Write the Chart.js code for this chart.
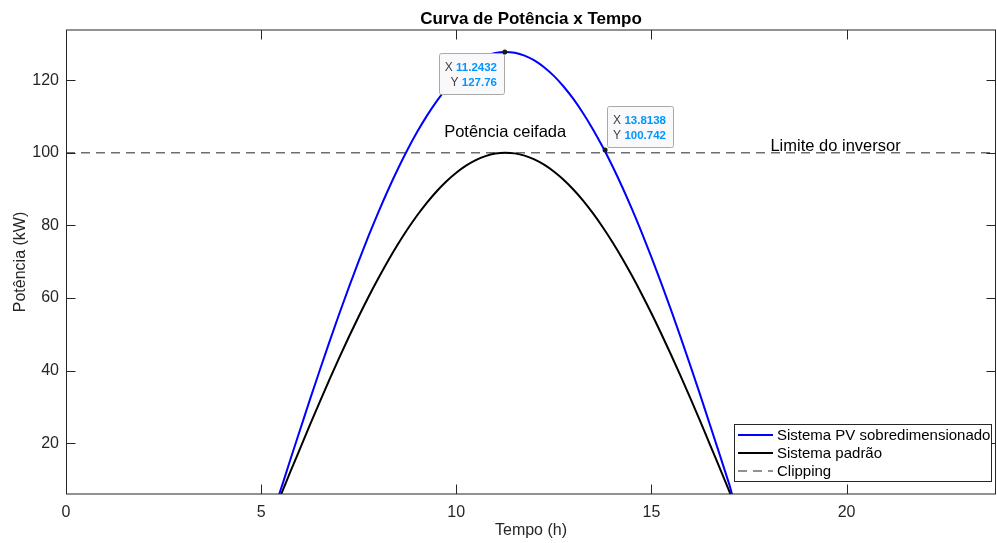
<!DOCTYPE html>
<html><head><meta charset="utf-8">
<script src="https://cdn.jsdelivr.net/npm/chart.js@4/dist/chart.umd.min.js"></script>
<style>html,body{margin:0;padding:0;background:#fff;overflow:hidden}canvas{display:block}</style>
</head><body>
<canvas id="c" width="997" height="543"></canvas>
<script>
// ---- data ----
const hours = [0, 5.25, 5.5, 5.75, 6, 6.25, 6.5, 6.75, 7, 7.25, 7.5, 7.75, 8, 8.25, 8.5, 8.75, 9, 9.25, 9.5, 9.75, 10, 10.25, 10.5, 10.75, 11, 11.25, 11.5, 11.75, 12, 12.25, 12.5, 12.75, 13, 13.25, 13.5, 13.75, 14, 14.25, 14.5, 14.75, 15, 15.25, 15.5, 15.75, 16, 16.25, 16.5, 16.75, 17, 17.25, 23.83];
const pvOversized = [0, 0, 7.17, 15.52, 23.75, 31.99, 40.02, 47.90, 55.57, 62.99, 70.14, 77.00, 83.51, 89.67, 95.45, 100.81, 105.75, 110.21, 114.21, 117.72, 120.72, 123.21, 125.16, 126.57, 127.45, 127.76, 127.53, 126.75, 125.42, 123.55, 121.16, 118.24, 114.81, 110.89, 106.49, 101.63, 96.33, 90.63, 84.53, 78.06, 71.26, 64.15, 56.77, 49.14, 41.30, 33.29, 25.07, 16.86, 8.51, 0, 0];
const standardSystem = [0, 0, 5.61, 12.15, 18.59, 25.04, 31.32, 37.49, 43.50, 49.30, 54.90, 60.27, 65.36, 70.19, 74.71, 78.91, 82.77, 86.26, 89.39, 92.14, 94.49, 96.44, 97.97, 99.07, 99.76, 100.00, 99.82, 99.21, 98.17, 96.71, 94.83, 92.55, 89.86, 86.80, 83.35, 79.55, 75.40, 70.94, 66.16, 61.10, 55.78, 50.21, 44.43, 38.46, 32.33, 26.06, 19.62, 13.20, 6.66, 0, 0];
const clipHours = [0, 23.83];
const clipLimit = [100, 100];
const xTickValues = [0, 5, 10, 15, 20];
const yTickValues = [20, 40, 60, 80, 100, 120];
const tipX = [11.2432, 13.8138];
const tipY = [127.76, 100.742];
const seriesLabels = ['Sistema PV sobredimensionado', 'Sistema padrão', 'Clipping'];
const chartTitle = 'Curva de Potência x Tempo';
const xAxisTitle = 'Tempo (h)';
const yAxisTitle = 'Potência (kW)';
const noteClipped = 'Potência ceifada';
const noteLimit = 'Limite do inversor';

const FONT = '"Liberation Sans", Arial, Helvetica, sans-serif';
const AX = '#262626';

const pts = (xs, ys) => xs.map((x, i) => ({x: x, y: ys[i]}));

const decor = {
  id: 'decor',
  afterDatasetsDraw(chart) {
    const ctx = chart.ctx;
    const xs = chart.scales.x, ys = chart.scales.y;
    ctx.save();
    // annotations
    ctx.fillStyle = '#000';
    ctx.font = '16.5px ' + FONT;
    ctx.textBaseline = 'middle';
    ctx.textAlign = 'left';
    ctx.fillText(noteClipped, xs.getPixelForValue(9.69), ys.getPixelForValue(105.5));
    ctx.fillText(noteLimit, xs.getPixelForValue(18.05), ys.getPixelForValue(101.8));
    // datatips
    tipX.forEach((tx, i) => {
      const px = xs.getPixelForValue(tx), py = ys.getPixelForValue(tipY[i]);
      const lines = [['X ', tx.toString()], ['Y ', tipY[i].toString()]];
      ctx.font = 'bold 11.5px ' + FONT;
      const vw = lines.map(l => ctx.measureText(l[1]).width);
      ctx.font = '12px ' + FONT;
      const lw = lines.map(l => ctx.measureText(l[0]).width);
      const w = Math.max(lw[0] + vw[0], lw[1] + vw[1]) + 13, h = 41;
      let bx, by;
      if (i === 0) { bx = px - 1 - w; by = py + 1; } else { bx = px + 2; by = py - 3 - h; }
      ctx.fillStyle = '#f9f9fc';
      ctx.strokeStyle = '#a9a9a9';
      ctx.lineWidth = 1;
      ctx.beginPath();
      ctx.roundRect(Math.round(bx) + 0.5, Math.round(by) + 0.5, Math.round(w), h, 2);
      ctx.fill(); ctx.stroke();
      const right = Math.round(bx) + Math.round(w) - 7;
      lines.forEach((l, k) => {
        const yy = Math.round(by) + 15 + k * 15;
        ctx.textAlign = 'right';
        ctx.font = 'bold 11.5px ' + FONT;
        ctx.fillStyle = 'rgb(0,150,255)';
        ctx.fillText(l[1], right, yy);
        ctx.font = '12px ' + FONT;
        ctx.fillStyle = '#404040';
        ctx.fillText(l[0], right - vw[k], yy);
      });
      ctx.beginPath();
      ctx.arc(px, py, 2.5, 0, Math.PI * 2);
      ctx.fillStyle = '#1a1a1a';
      ctx.fill();
    });
    ctx.restore();
  },
  afterDraw(chart) {
    const ctx = chart.ctx, a = chart.chartArea;
    const xs = chart.scales.x, ys = chart.scales.y;
    ctx.save();
    // box
    ctx.strokeStyle = AX; ctx.lineWidth = 1;
    ctx.beginPath();
    ctx.moveTo(a.left + 0.5, a.top); ctx.lineTo(a.left + 0.5, a.bottom);
    ctx.moveTo(a.right - 0.5, a.top); ctx.lineTo(a.right - 0.5, a.bottom);
    ctx.moveTo(a.left, a.top); ctx.lineTo(a.right, a.top);
    ctx.moveTo(a.left, a.bottom); ctx.lineTo(a.right, a.bottom);
    ctx.stroke();
    // inward ticks
    ctx.beginPath();
    xTickValues.forEach(v => {
      const p = Math.round(xs.getPixelForValue(v)) + 0.5;
      ctx.moveTo(p, a.bottom); ctx.lineTo(p, a.bottom - 9.5);
      ctx.moveTo(p, a.top); ctx.lineTo(p, a.top + 9.5);
    });
    yTickValues.forEach(v => {
      const p = Math.round(ys.getPixelForValue(v)) + 0.5;
      ctx.moveTo(a.left, p); ctx.lineTo(a.left + 9.5, p);
      ctx.moveTo(a.right, p); ctx.lineTo(a.right - 9.5, p);
    });
    ctx.stroke();
    // title
    ctx.fillStyle = '#000';
    ctx.font = 'bold 17px ' + FONT;
    ctx.textAlign = 'center';
    ctx.textBaseline = 'alphabetic';
    ctx.fillText(chartTitle, (a.left + a.right) / 2, 24);
    // legend
    const L = {x: 734, y: 424, w: 257, h: 57};
    ctx.fillStyle = '#fff';
    ctx.fillRect(L.x, L.y, L.w, L.h);
    ctx.strokeStyle = AX; ctx.lineWidth = 1;
    ctx.strokeRect(L.x + 0.5, L.y + 0.5, L.w, L.h);
    chart.data.datasets.slice(0, 3).forEach((ds, i) => {
      const yy = L.y + 11 + i * 18;
      ctx.beginPath();
      ctx.strokeStyle = ds.borderColor;
      ctx.lineWidth = ds.borderWidth;
      ctx.setLineDash(ds.borderDash || []);
      ctx.moveTo(L.x + 4, yy); ctx.lineTo(L.x + 39, yy);
      ctx.stroke();
      ctx.setLineDash([]);
      ctx.fillStyle = '#000';
      ctx.font = '15px ' + FONT;
      ctx.textAlign = 'left';
      ctx.textBaseline = 'middle';
      ctx.fillText(ds.label, L.x + 43, yy + 0.5);
    });
    ctx.restore();
  }
};

new Chart(document.getElementById('c'), {
  type: 'line',
  data: {
    datasets: [
      {label: seriesLabels[0], data: pts(hours, pvOversized), borderColor: '#0000ff', borderWidth: 2, pointRadius: 0, cubicInterpolationMode: 'monotone', fill: false},
      {label: seriesLabels[1], data: pts(hours, standardSystem), borderColor: '#000000', borderWidth: 2, pointRadius: 0, cubicInterpolationMode: 'monotone', fill: false},
      {label: seriesLabels[2], data: pts(clipHours, clipLimit), borderColor: '#6e6e6e', borderWidth: 1.6, borderDash: [9, 6], pointRadius: 0, fill: false}
    ]
  },
  options: {
    responsive: false,
    animation: false,
    devicePixelRatio: 1,
    events: [],
    layout: {padding: {top: 30, right: 1, left: 0, bottom: 0}},
    plugins: {legend: {display: false}, title: {display: false}, tooltip: {enabled: false}},
    scales: {
      x: {
        type: 'linear', min: 0, max: 23.83,
        afterBuildTicks: s => { s.ticks = xTickValues.map(v => ({value: v})); },
        afterFit: s => { s.height = 49; s.paddingLeft = 0; s.paddingRight = 0; },
        grid: {display: false, drawTicks: false},
        border: {display: false},
        ticks: {padding: 9, color: AX, font: {family: FONT, size: 16}, maxRotation: 0, autoSkip: false},
        title: {display: true, text: xAxisTitle, color: AX, font: {family: FONT, size: 16}, padding: {top: 0, bottom: 3}}
      },
      y: {
        type: 'linear', min: 6, max: 133.8,
        afterBuildTicks: s => { s.ticks = yTickValues.map(v => ({value: v})); },
        afterFit: s => { s.width = 66; s.paddingTop = 0; s.paddingBottom = 0; },
        grid: {display: false, drawTicks: false},
        border: {display: false},
        ticks: {padding: 7, color: AX, font: {family: FONT, size: 16}, autoSkip: false},
        title: {display: true, text: yAxisTitle, color: AX, font: {family: FONT, size: 16}, padding: {top: 11, bottom: 0}}
      }
    }
  },
  plugins: [decor]
});
</script>
</body></html>
